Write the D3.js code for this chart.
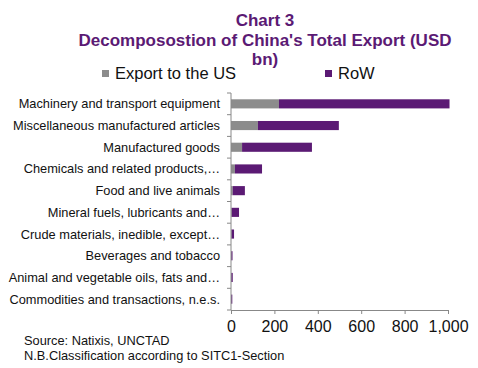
<!DOCTYPE html>
<html>
<head>
<meta charset="utf-8">
<script src="https://cdn.jsdelivr.net/npm/d3@7"></script>
<style>
  body { margin: 0; background: #fff; }
  text { font-family: "Liberation Sans", Arial, sans-serif; }
</style>
</head>
<body>
<div id="chart"></div>
<script>
const categories = [
  "Machinery and transport equipment",
  "Miscellaneous manufactured articles",
  "Manufactured goods",
  "Chemicals and related products,\u2026",
  "Food and live animals",
  "Mineral fuels, lubricants and\u2026",
  "Crude materials, inedible, except\u2026",
  "Beverages and tobacco",
  "Animal and vegetable oils, fats and\u2026",
  "Commodities and transactions, n.e.s."
];
const exportUS = [221, 124, 51, 18, 8, 3, 2, 1, 1, 1];
const exportRoW = [786, 373, 322, 125, 56, 34, 12, 6, 7, 5];
const seriesNames = ["Export to the US", "RoW"];
const xTicks = [0, 200, 400, 600, 800, 1000];

const width = 478,
  height = 368,
  margin = ({ top: 93, right: 30, bottom: 58, left: 231 });

const colors = ["#8c8c8c", "#5b1a74"];
const purple = "#5b1a74";

const svg = d3.select("#chart")
  .append("svg")
  .attr("width", width)
  .attr("height", height);

const x = d3.scaleLinear()
  .domain([0, 1000])
  .range([margin.left, width - margin.right]);

const y = d3.scaleBand()
  .domain(categories)
  .range([margin.top, height - margin.bottom])
  .paddingInner(0.58)
  .paddingOuter(0.29);

// stacked bars
const rows = categories.map((c, i) => ({ cat: c, us: exportUS[i], row: exportRoW[i] }));
const stack = d3.stack().keys(["us", "row"])(rows);

svg.append("g")
  .selectAll("g")
  .data(stack)
  .join("g")
  .attr("fill", (d, i) => colors[i])
  .selectAll("rect")
  .data(d => d)
  .join("rect")
  .attr("x", d => x(d[0]))
  .attr("y", d => y(d.data.cat))
  .attr("width", d => Math.max(0, x(d[1]) - x(d[0])))
  .attr("height", y.bandwidth());

// y axis line + boundary ticks
const yAxis = svg.append("g");
yAxis.append("line")
  .attr("x1", x(0)).attr("x2", x(0))
  .attr("y1", margin.top).attr("y2", height - margin.bottom)
  .attr("stroke", "#888");
const bounds = d3.range(categories.length + 1).map(i => margin.top + i * y.step());
yAxis.selectAll(".bt")
  .data(bounds)
  .join("line")
  .attr("x1", x(0) - 4).attr("x2", x(0))
  .attr("y1", d => d).attr("y2", d => d)
  .attr("stroke", "#888");

yAxis.selectAll("text")
  .data(categories)
  .join("text")
  .attr("x", x(0) - 11)
  .attr("y", d => y(d) + y.bandwidth() / 2)
  .attr("dy", "0.35em")
  .attr("text-anchor", "end")
  .attr("font-size", 12.8)
  .attr("fill", "#111")
  .text(d => d);

// x axis
const xAxis = svg.append("g")
  .attr("transform", `translate(0,${height - margin.bottom})`)
  .call(d3.axisBottom(x).tickValues(xTicks).tickSize(4).tickSizeOuter(0).tickFormat(d3.format(",")));
xAxis.select(".domain").attr("stroke", "#888");
xAxis.selectAll(".tick line").attr("stroke", "#888");
xAxis.selectAll(".tick text")
  .attr("font-size", 16)
  .attr("font-family", "Liberation Sans, Arial, sans-serif")
  .attr("fill", "#111")
  .attr("y", 11);

// title
const titleLines = ["Chart 3", "Decomposostion of China's Total Export (USD", "bn)"];
svg.append("g")
  .selectAll("text")
  .data(titleLines)
  .join("text")
  .attr("x", 265)
  .attr("y", (d, i) => 26 + i * 19.5)
  .attr("text-anchor", "middle")
  .attr("font-size", 17)
  .attr("font-weight", "bold")
  .attr("fill", purple)
  .text(d => d);

// legend
const legendX = [102, 325];
const legend = svg.append("g")
  .selectAll("g")
  .data(seriesNames)
  .join("g")
  .attr("transform", (d, i) => `translate(${legendX[i]},70)`);
legend.append("rect")
  .attr("width", 7).attr("height", 7)
  .attr("fill", (d, i) => colors[i]);
legend.append("text")
  .attr("x", 13)
  .attr("y", 8.5)
  .attr("font-size", 16.5)
  .attr("fill", "#111")
  .text(d => d);

// source notes
const notes = ["Source: Natixis, UNCTAD", "N.B.Classification according to SITC1-Section"];
svg.append("g")
  .selectAll("text")
  .data(notes)
  .join("text")
  .attr("x", 24)
  .attr("y", (d, i) => 345 + i * 14.5)
  .attr("font-size", 12.8)
  .attr("fill", "#111")
  .text(d => d);
</script>
</body>
</html>
